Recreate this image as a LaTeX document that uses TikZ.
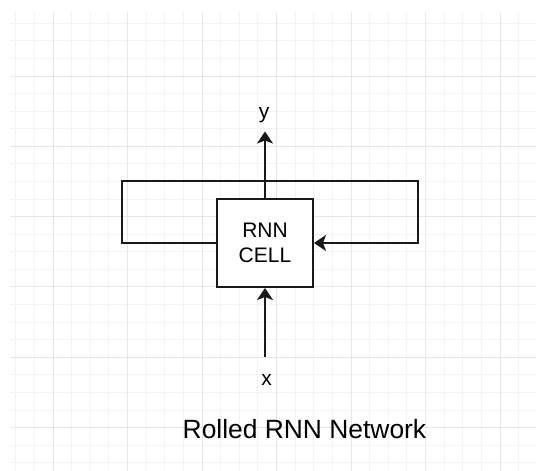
\documentclass[tikz,border=0pt]{standalone}
\usepackage{fontspec}
\setmainfont{Liberation Sans}
\usetikzlibrary{arrows.meta}
\definecolor{gridminor}{HTML}{F3F3F3}
\definecolor{gridmajor}{HTML}{E6E6E6}
\tikzset{
  conn/.style={line width=2pt, draw=black!90},
  arr/.style={conn, -{Stealth[length=12pt, width=16pt, inset=3pt]}},
  cellbox/.style={draw=black!90, line width=2pt, fill=white, minimum width=96pt, minimum height=88pt, inner sep=0pt, align=center, font=\fontsize{21}{25}\selectfont},
  lbl/.style={font=\fontsize{21}{25}\selectfont, inner sep=0pt, anchor=base},
  titlelbl/.style={font=\fontsize{26.4}{30}\selectfont, inner sep=0pt, anchor=base}
}
\begin{document}
\begin{tikzpicture}[x=1pt, y=-1pt]
\useasboundingbox (0,0) rectangle (536,471);
\fill[white] (0,0) rectangle (536,471);
% grid
\foreach \k in {-2,...,25} {
  \pgfmathsetmacro{\gx}{53+18.63*\k}
  \draw[gridminor, line width=1pt] (\gx,12) -- (\gx,471);
}
\foreach \k in {-3,...,22} {
  \pgfmathsetmacro{\gy}{76+17.58*\k}
  \draw[gridminor, line width=1pt] (10,\gy) -- (536,\gy);
}
\foreach \k in {0,...,6} {
  \pgfmathsetmacro{\gx}{53+74.52*\k}
  \draw[gridmajor, line width=1pt] (\gx,12) -- (\gx,471);
}
\foreach \k in {0,...,5} {
  \pgfmathsetmacro{\gy}{76+70.32*\k}
  \draw[gridmajor, line width=1pt] (10,\gy) -- (536,\gy);
}
% nodes
\node[cellbox] (cell) at (265,243) {RNN\\CELL};
\node[lbl] (ylbl) at (264,118.5) {y};
\node[lbl] (xlbl) at (266.5,385) {x};
\node[titlelbl] (title) at (304.5,438) {Rolled RNN Network};
\coordinate (ytip) at (265,131.5);
\coordinate (xstart) at (265,357);
\coordinate (lb) at (122,243);
\coordinate (lt) at (122,181);
\coordinate (rt) at (418,181);
\coordinate (rb) at (418,243);
% connectors
\draw[arr] (cell.north) -- (ytip);
\draw[arr] (xstart) -- (cell.south);
\draw[arr] (cell.west) -- (lb) -- (lt) -- (rt) -- (rb) -- (cell.east);
\end{tikzpicture}
\end{document}
